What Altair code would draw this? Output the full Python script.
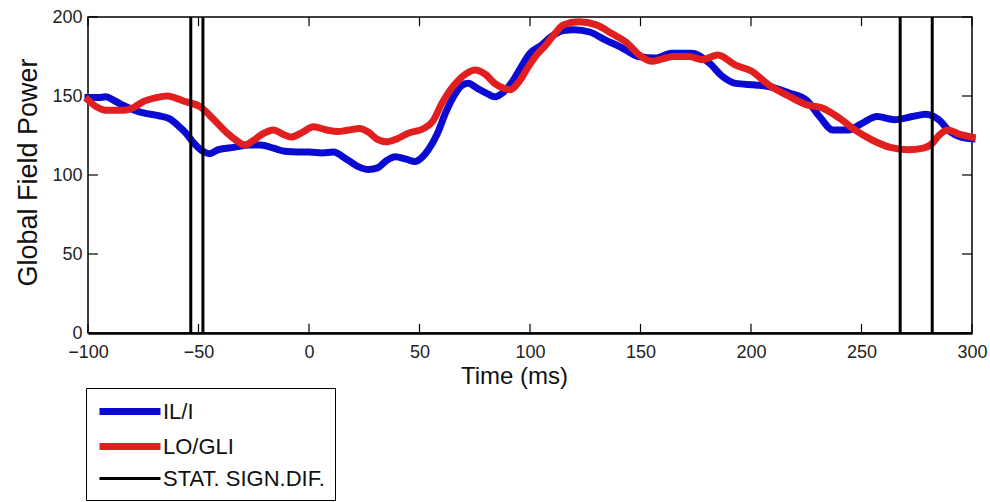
import altair as alt
import pandas as pd

# ---- data ----
series_names = ["IL/I", "LO/GLI", "STAT. SIGN.DIF."]
series_colors = ["#0a0ad2", "#e21f1f", "#000000"]

t_blue = [-100, -95, -92, -88, -84, -79, -74, -68, -63, -59, -56, -52, -48, -45, -41, -34,
          -27, -22, -16, -11, -5, 0, 6, 11, 17, 22, 27, 31, 35, 39, 44, 48, 51, 54, 58, 62,
          66, 69, 72, 76, 80, 84, 88, 92, 95, 100, 105, 110, 115, 120, 127, 134, 141, 149,
          157, 164, 173, 181, 187, 193, 202, 208, 217, 225, 231, 237, 244, 250, 257, 265,
          273, 279, 285, 290, 295, 300]
v_blue = [149, 149, 149.5, 147, 144, 141, 139, 137.5, 135.5, 131, 127, 120, 115, 113.5, 116,
          117.5, 119, 119, 117, 115, 114.5, 114.5, 114, 114.5, 110, 105.5, 103.5, 104.5, 109,
          111.5, 110, 108.5, 111, 116, 126, 140, 151, 156.5, 158, 155, 152, 149.5, 152.5, 159,
          166, 177, 182, 188, 191.5, 192, 190.5, 185.5, 181, 175, 174, 177, 177, 171, 162.5,
          158, 157, 156, 152, 147.5, 137, 128.5, 128.5, 132.5, 137, 135, 137, 138.5, 135,
          127.5, 124, 123]

t_red = [-100, -96, -92, -84, -79, -75, -69, -64, -60, -56, -49, -43, -37, -33, -29, -25, -21,
         -16, -12, -8, -3, 2, 8, 13, 18, 23, 27, 31, 35, 40, 45, 52, 56, 60, 64, 68, 71, 75,
         80, 84, 88, 91, 95, 99, 103, 107, 111, 115, 122, 130, 137, 144, 149, 155, 160, 165,
         172, 178, 185, 193, 200, 208, 217, 225, 232, 240, 247, 255, 263, 271, 278, 282, 285,
         289, 295, 300]
v_red = [147.5, 143, 141, 141, 143, 146.5, 149, 150, 148.5, 146.5, 143, 135, 126.5, 122, 119,
         122, 126, 128.5, 126, 124, 127, 130.5, 128.5, 127.5, 128.5, 129.5, 127, 122.5, 121,
         123, 126.5, 129.5, 134, 145, 154, 160.5, 164, 166.5, 163.5, 158, 155, 154, 159, 168,
         176, 182, 189, 195, 197, 195, 189.5, 183.5, 176.5, 172, 173.5, 175, 175, 173, 176,
         169.5, 166, 157, 150, 144.5, 142.5, 136, 128.5, 122, 117.5, 116, 117, 120, 125,
         128.5, 125.5, 124]

sig_times = [-53.5, -48, 267.5, 282]

x_ticks = [-100, -50, 0, 50, 100, 150, 200, 250, 300]
y_ticks = [0, 50, 100, 150, 200]

# ---- tables ----
lines_df = pd.concat([
    pd.DataFrame({"t": t_blue, "v": v_blue, "series": series_names[0]}),
    pd.DataFrame({"t": t_red, "v": v_red, "series": series_names[1]}),
])
sig_df = pd.DataFrame({"t": sig_times, "series": series_names[2]})

FONT = "Liberation Sans"

x_scale = alt.Scale(domain=[-100, 300], nice=False, zero=False)
y_scale = alt.Scale(domain=[0, 200], nice=False, zero=False)

leg = alt.Legend(title=None)
color_enc = alt.Color("series:N", scale=alt.Scale(domain=series_names, range=series_colors), legend=leg)
sw_enc = alt.StrokeWidth("series:N", scale=alt.Scale(type="ordinal", domain=series_names, range=[7, 7, 3]), legend=leg)

x_enc = alt.X("t:Q", scale=x_scale,
              axis=alt.Axis(values=x_ticks, title="Time (ms)", ticks=False, grid=False,
                            labelPadding=10, labelFlush=False, domainWidth=2.5, domainColor="black",
                            titleX=426, titleY=50, titleBaseline="alphabetic",
                            titleFontSize=24, titleFontWeight="normal"))
y_enc = alt.Y("v:Q", scale=y_scale,
              axis=alt.Axis(values=y_ticks, title="Global Field Power", ticks=False, grid=False,
                            labelPadding=6, labelFlush=False, domain=False,
                            titleX=-60, titleY=155, titleBaseline="middle", titleAlign="center",
                            titleAngle=270, titleFontSize=27, titleFontWeight="normal"))

curves = alt.Chart(lines_df).mark_line(interpolate="monotone", strokeCap="square").encode(
    x=x_enc, y=y_enc, color=color_enc, strokeWidth=sw_enc, detail="series:N")

sig = alt.Chart(sig_df).mark_rule().encode(
    x=alt.X("t:Q", scale=x_scale), color=color_enc, strokeWidth=sw_enc)

# inward tick marks (MATLAB box style)
tick_len_y = 5.8
tick_len_x = 4.5
xt = pd.DataFrame({"t": x_ticks})
yt = pd.DataFrame({"v": y_ticks})
bottom_ticks = alt.Chart(xt).mark_rule(color="black", strokeWidth=1.2).encode(
    x=alt.X("t:Q", scale=x_scale), y=alt.datum(0, scale=y_scale), y2=alt.datum(tick_len_y))
top_ticks = alt.Chart(xt).mark_rule(color="black", strokeWidth=1.2).encode(
    x=alt.X("t:Q", scale=x_scale), y=alt.datum(200 - tick_len_y, scale=y_scale), y2=alt.datum(200))
left_ticks = alt.Chart(yt).mark_rule(color="black", strokeWidth=1.2).encode(
    y=alt.Y("v:Q", scale=y_scale), x=alt.datum(-100, scale=x_scale), x2=alt.datum(-100 + tick_len_x))
right_ticks = alt.Chart(yt).mark_rule(color="black", strokeWidth=1.2).encode(
    y=alt.Y("v:Q", scale=y_scale), x=alt.datum(300 - tick_len_x, scale=x_scale), x2=alt.datum(300))

chart = alt.layer(bottom_ticks, top_ticks, left_ticks, right_ticks, curves, sig).properties(
    width=884, height=316,
    autosize=alt.AutoSizeParams(type="none"),
    padding={"left": 88, "top": 17, "right": 18, "bottom": 169},
    background="white",
).configure_view(
    stroke="black", strokeWidth=1.5
).configure_axis(
    labelFont=FONT, titleFont=FONT, labelFontSize=18, labelColor="#222222",
    titleColor="#111111",
).configure_legend(
    orient="none", legendX=-2, legendY=371,
    symbolType="M-1,0H5.1", symbolSize=400,
    labelFont=FONT, labelFontSize=22, labelColor="#111111", labelOffset=40,
    padding=10, rowPadding=6, strokeColor="black", fillColor="white",
    labelLimit=400,
)

chart.save("out.html", embed_options={"renderer": "svg", "actions": False})
